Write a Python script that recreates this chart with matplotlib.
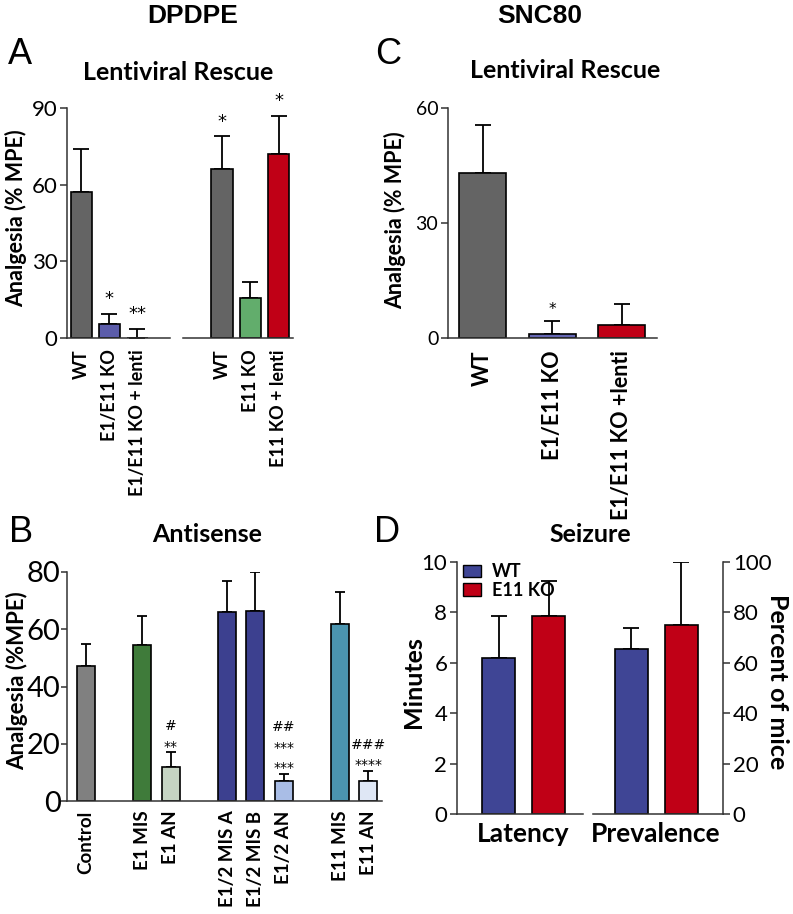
import numpy as np
import matplotlib.pyplot as plt

plt.rcParams['font.family'] = ['Lato', 'DejaVu Sans']

# ---- data ----
# A: DPDPE lentiviral rescue (two groups)
a1_labels = ['WT', 'E1/E11 KO', 'E1/E11 KO + lenti']
a1_vals = [57, 5.5, 0]
a1_err = [17, 4, 3.5]
a1_stars = ['', '*', '**']
a2_labels = ['WT', 'E11 KO', 'E11 KO + lenti']
a2_vals = [66, 15.5, 72]
a2_err = [13, 6.5, 15]
a2_stars = ['*', '', '*']

# C: SNC80 lentiviral rescue
c_labels = ['WT', 'E1/E11 KO', 'E1/E11 KO +lenti']
c_vals = [43, 1, 3.5]
c_err = [12.5, 3.5, 5.5]
c_stars = ['', '*', '']

# B: antisense
b_labels = ['Control', 'E1 MIS', 'E1 AN', 'E1/2 MIS A', 'E1/2 MIS B', 'E1/2 AN', 'E11 MIS', 'E11 AN']
b_pos = [0, 2, 3, 5, 6, 7, 9, 10]
b_vals = [47, 54.5, 12, 66, 66.5, 7, 62, 7]
b_err = [8, 10, 5, 11, 13.5, 2.5, 11, 3.5]
b_marks = ['', '', '#\n**', '', '', '##\n***\n***', '', '###\n****']

# D: seizure
d_groups = ['Latency', 'Prevalence']
d_series = ['WT', 'E11 KO']
d_latency = [6.2, 7.85]
d_latency_err = [1.65, 1.4]
d_prev = [65.5, 75]
d_prev_err = [8.5, 25]

gray = '#646464'
colors_a1 = [gray, '#5b5caa', gray]
colors_a2 = [gray, '#62ad6c', '#c00016']
colors_c = [gray, '#6567b4', '#c00016']
colors_b = ['#808080', '#3f7b3a', '#c6d4c3', '#3c408f', '#3c408f', '#a9bde6', '#4b95b0', '#dfe7f5']
colors_d = ['#3f4595', '#c00016']

W, H = 793, 914
fig = plt.figure(figsize=(W / 100, H / 100), dpi=100)


def ax_at(x0, x1, ytop, ybot):
    return fig.add_axes([x0 / W, 1 - ybot / H, (x1 - x0) / W, (ybot - ytop) / H])


def px_text(x, y, s, **kw):
    return fig.text(x / W, 1 - y / H, s, ha='center', va='center', **kw)


def style(ax, left=True, tick_size=12, pad=8, tlen=5, tpad=2):
    for s in ['top', 'right']:
        ax.spines[s].set_visible(False)
    ax.spines['left'].set_visible(left)
    for s in ['left', 'bottom', 'right']:
        ax.spines[s].set_linewidth(1.1)
        ax.spines[s].set_color('#333333')
    ax.tick_params(axis='x', length=0, pad=pad)
    ax.tick_params(axis='y', length=tlen, width=1.1, color='#333333', labelsize=tick_size, pad=tpad)
    if not left:
        ax.set_yticks([])


def bars(ax, x, vals, err, colors, width, cap=6):
    ax.bar(x, vals, width=width, color=colors, edgecolor='black', linewidth=1.2, zorder=2)
    ax.errorbar(x, vals, yerr=[np.zeros(len(vals)), err], fmt='none', ecolor='black',
                elinewidth=1.3, capsize=cap, capthick=1.3, zorder=1)


def marks(ax, x, vals, err, texts, size, dy, ls=1.25):
    for xi, v, e, t in zip(x, vals, err, texts):
        if t:
            ax.annotate(t, (xi, v + e), xytext=(0, dy), textcoords='offset points',
                        ha='center', va='bottom', fontsize=size, linespacing=ls,
                        family='DejaVu Sans', annotation_clip=False)


# ---- Panel A ----
axA1 = ax_at(67, 170, 108, 338)
x = np.arange(3)
bars(axA1, x, a1_vals, a1_err, colors_a1, 0.75)
marks(axA1, x, a1_vals, a1_err, a1_stars, 13, 4)
axA1.set_xlim(-0.52, 3.18)
axA1.set_ylim(0, 90)
axA1.set_yticks([0, 30, 60, 90])
style(axA1, tick_size=16)
axA1.set_xticks(x)
axA1.set_xticklabels(a1_labels, rotation=90, fontsize=13, fontweight='bold')

axA2 = ax_at(183, 293, 108, 338)
bars(axA2, x, a2_vals, a2_err, colors_a2, 0.75)
marks(axA2, x, a2_vals, a2_err, a2_stars, 13, 4)
axA2.set_xlim(-1.38, 2.51)
axA2.set_ylim(0, 90)
style(axA2, left=False)
axA2.set_xticks(x)
axA2.set_xticklabels(a2_labels, rotation=90, fontsize=13, fontweight='bold')
px_text(16, 218, 'Analgesia (% MPE)', rotation=90, fontsize=15.5, fontweight='bold')

# ---- Panel C ----
axC = ax_at(448, 657, 108, 338)
bars(axC, x, c_vals, c_err, colors_c, 0.68)
marks(axC, x, c_vals, c_err, c_stars, 11, 3)
axC.set_xlim(-0.5, 2.51)
axC.set_ylim(0, 60)
axC.set_yticks([0, 30, 60])
style(axC, tick_size=14, pad=9)
axC.set_xticks(x)
axC.set_xticklabels(c_labels, rotation=90, fontsize=15.5, fontweight='bold')
px_text(395, 220, 'Analgesia (% MPE)', rotation=90, fontsize=15.5, fontweight='bold')

# ---- Panel B ----
axB = ax_at(67, 382, 572, 801)
bars(axB, b_pos, b_vals, b_err, colors_b, 0.64, cap=3.5)
marks(axB, b_pos, b_vals, b_err, b_marks, 10, -1, ls=1.6)
axB.set_xlim(-0.67, 10.48)
axB.set_ylim(0, 80)
axB.set_yticks([0, 20, 40, 60, 80])
style(axB, tick_size=21, pad=7, tlen=4, tpad=0.5)
axB.set_xticks(b_pos)
axB.set_xticklabels(b_labels, rotation=90, fontsize=13.5, fontweight='bold')
px_text(17, 681, 'Analgesia (%MPE)', rotation=90, fontsize=16, fontweight='bold')

# ---- Panel D ----
xd = np.arange(2)
axD1 = ax_at(457, 583, 562, 814)
bars(axD1, xd, d_latency, d_latency_err, colors_d, 0.66)
axD1.set_xlim(-0.83, 1.69)
axD1.set_ylim(0, 10)
axD1.set_yticks([0, 2, 4, 6, 8, 10])
style(axD1, tick_size=16, pad=6)
axD1.set_xticks([0.5])
axD1.set_xticklabels([d_groups[0]], fontsize=19, fontweight='bold')
handles = [plt.Rectangle((0, 0), 1, 1, facecolor=c, edgecolor='black', linewidth=1) for c in colors_d]
axD1.legend(handles, d_series, loc='upper left', bbox_to_anchor=(0.045, 0.995), frameon=False,
            prop={'weight': 'bold', 'size': 13}, handlelength=1.0, handleheight=0.7,
            handletextpad=0.6, labelspacing=0.1, borderaxespad=0, borderpad=0)
px_text(414, 682, 'Minutes', rotation=90, fontsize=18, fontweight='bold')

axD2 = ax_at(593, 723, 562, 814)
bars(axD2, xd, d_prev, d_prev_err, colors_d, 0.66)
axD2.set_xlim(-0.76, 1.84)
axD2.set_ylim(0, 100)
for s in ['top', 'left']:
    axD2.spines[s].set_visible(False)
for s in ['bottom', 'right']:
    axD2.spines[s].set_linewidth(1.1)
    axD2.spines[s].set_color('#333333')
axD2.yaxis.tick_right()
axD2.set_yticks([0, 20, 40, 60, 80, 100])
axD2.tick_params(axis='y', length=5, width=1.1, color='#333333', labelsize=16, pad=2)
axD2.tick_params(axis='x', length=0, pad=6)
axD2.set_xticks([0.5])
axD2.set_xticklabels([d_groups[1]], fontsize=19, fontweight='bold')
px_text(778, 682, 'Percent of mice', rotation=270, fontsize=18, fontweight='bold')

# ---- headings ----
px_text(193, 16, 'DPDPE', fontsize=19, fontweight='bold', family='Liberation Sans')
px_text(540, 16, 'SNC80', fontsize=19, fontweight='bold', family='Liberation Sans')
for lx, ly, t in [(20, 55, 'A'), (388, 55, 'C'), (21, 532, 'B'), (387, 532, 'D')]:
    px_text(lx, ly, t, fontsize=26, family='Liberation Sans')
px_text(178, 72, 'Lentiviral Rescue', fontsize=18, fontweight='bold')
px_text(565, 70, 'Lentiviral Rescue', fontsize=18, fontweight='bold')
px_text(207, 535, 'Antisense', fontsize=18, fontweight='bold')
px_text(590, 534, 'Seizure', fontsize=18, fontweight='bold')

fig.savefig('out.png', dpi=100)
